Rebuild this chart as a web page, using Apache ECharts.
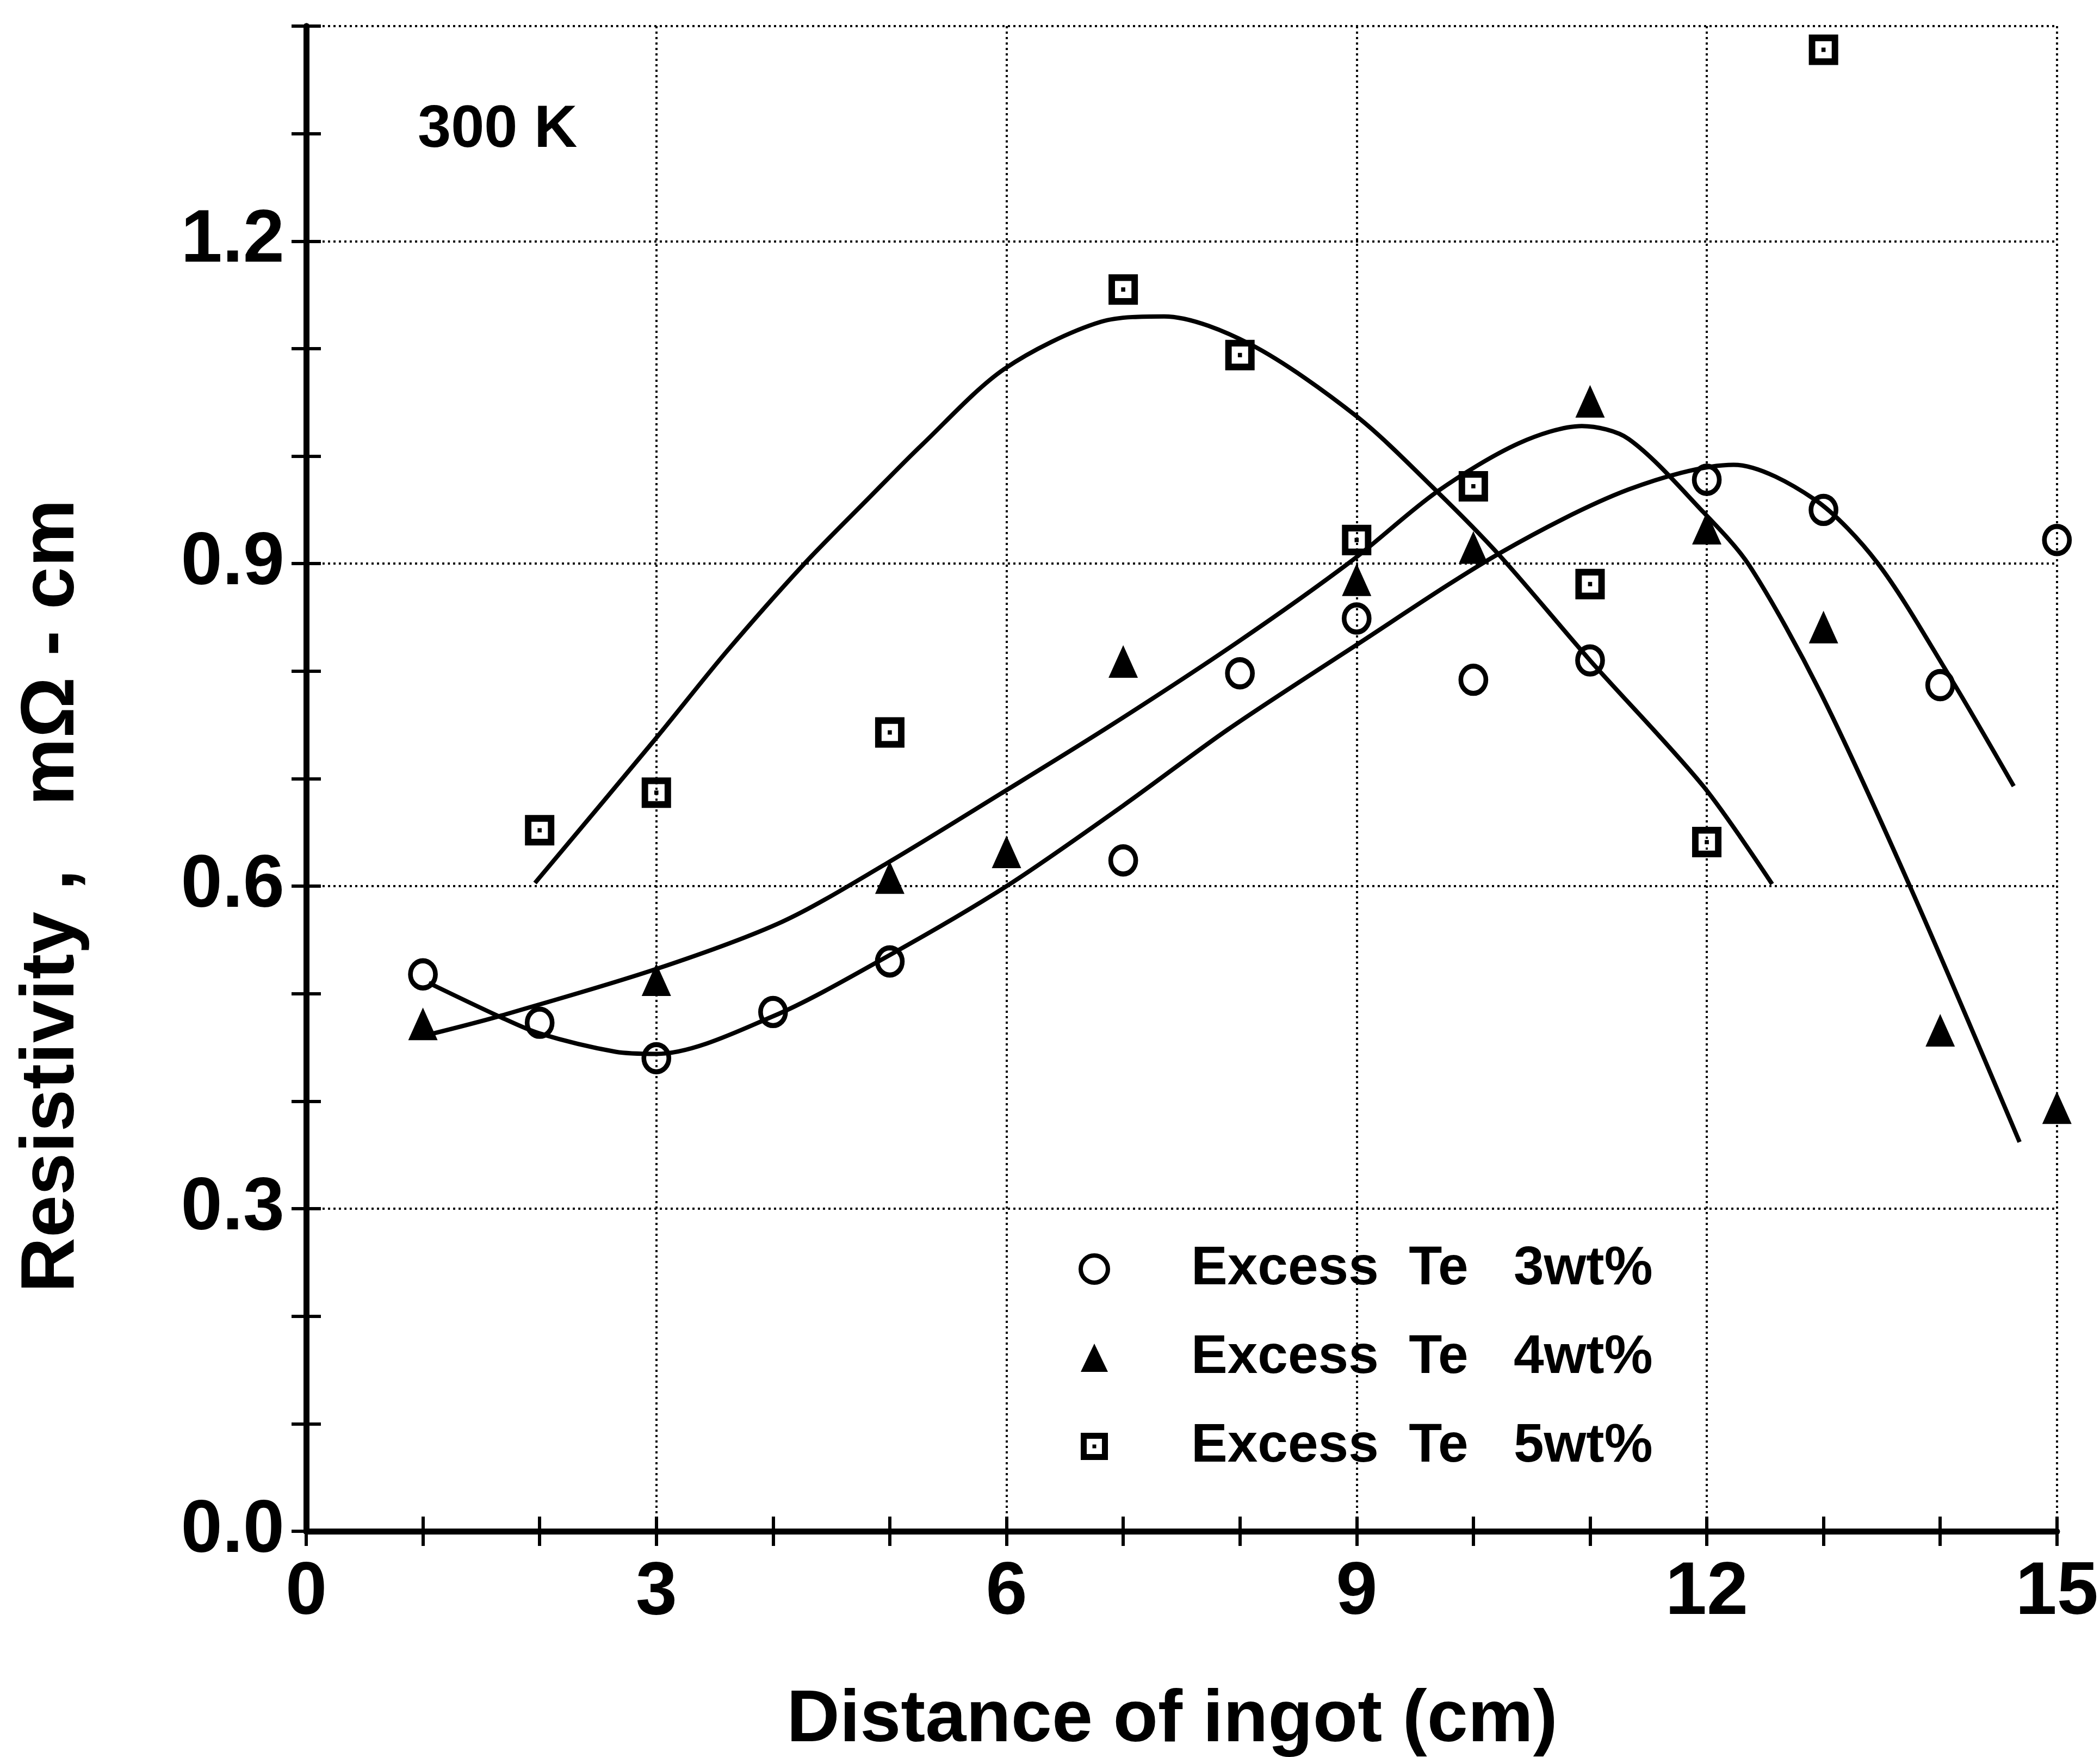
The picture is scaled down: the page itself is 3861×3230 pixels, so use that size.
<!DOCTYPE html>
<html>
<head>
<meta charset="utf-8">
<script src="https://cdn.jsdelivr.net/npm/echarts@6/dist/echarts.min.js"></script>
<style>
html,body{margin:0;padding:0;background:#fff;}
#chart{width:3861px;height:3230px;}
</style>
</head>
<body>
<div id="chart"></div>
<script>
// ---- data ----
const seriesNames = ['Excess  Te   3wt%', 'Excess  Te   4wt%', 'Excess  Te   5wt%'];

// measured points [distance (cm), resistivity (mΩ·cm)]
const te3Points = [[1,0.518],[2,0.473],[3,0.440],[4,0.483],[5,0.530],[7,0.624],[8,0.798],[9,0.849],[10,0.792],[11,0.810],[12,0.978],[13,0.950],[14,0.787],[15,0.922]];
const te4Points = [[1,0.472],[3,0.513],[5,0.608],[6,0.632],[7,0.809],[9,0.885],[10,0.915],[11,1.051],[12,0.933],[13,0.841],[14,0.466],[15,0.394]];
const te5Points = [[2,0.652],[3,0.687],[5,0.743],[7,1.155],[8,1.094],[9,0.922],[10,0.972],[11,0.881],[12,0.641],[13,1.378]];

// fitted curves
const te3Curve = [[1.05,0.510],[1.65,0.479],[2.0,0.463],[2.65,0.446],[3.0,0.444],[4.0,0.479],[5.0,0.536],[6.0,0.600],[7.0,0.675],[7.9,0.746],[8.95,0.821],[10.23,0.910],[11.33,0.969],[12.23,0.992],[12.92,0.960],[13.46,0.901],[14.07,0.797],[14.63,0.693]];
const te4Curve = [[1.05,0.462],[1.65,0.479],[3.0,0.523],[4.08,0.567],[4.97,0.621],[5.95,0.686],[6.9,0.750],[7.98,0.827],[8.95,0.902],[9.69,0.967],[10.39,1.012],[10.93,1.028],[11.33,1.016],[11.97,0.948],[12.36,0.899],[12.97,0.781],[13.74,0.600],[14.68,0.362]];
const te5Curve = [[1.96,0.603],[3.0,0.738],[3.6,0.818],[4.26,0.899],[4.82,0.961],[5.28,1.011],[5.98,1.081],[6.81,1.125],[7.35,1.130],[8.09,1.104],[9.0,1.037],[9.69,0.967],[10.23,0.907],[11.0,0.810],[11.97,0.693],[12.56,0.602]];

const xTickLabels = ['0','3','6','9','12','15'];
const yTickLabels = ['0.0','0.3','0.6','0.9','1.2'];

const xTitle = 'Distance of ingot (cm)';
const yTitle = 'Resistivity ,   m\u03A9 - cm';
const tempLabel = '300 K';

// ---- chart ----
const FONT = '"Liberation Sans", Arial, Helvetica, sans-serif';
const chart = echarts.init(document.getElementById('chart'), null, {renderer:'canvas'});

const frameLine = {show:true, lineStyle:{color:'#000', width:11}};
const tickStyle = {show:true, inside:true, length:27, lineStyle:{color:'#000', width:6}};
const gridDots = {show:true, lineStyle:{color:'#000', width:4, type:[4,6]}};
const squareSymbol = 'path://M0,0 H10 V10 H0 Z M2.2,2.2 V7.8 H7.8 V2.2 Z M4.3,4.3 H5.7 V5.7 H4.3 Z';
const curveStyle = {color:'#000', width:8};
const circleStyle = {color:'rgba(255,255,255,0)', borderColor:'#000', borderWidth:9, opacity:1};

const option = {
  backgroundColor:'#fff',
  animation:false,
  grid:{left:563, right:76, top:48, bottom:415, containLabel:false},
  xAxis:[
    {type:'value', position:'bottom', min:0, max:15, interval:3,
     axisLine:frameLine, axisTick:tickStyle,
     minorTick:{show:true, splitNumber:3, length:27, lineStyle:{color:'#000', width:6}},
     axisLabel:{show:true, margin:46, fontSize:137, fontWeight:'bold', fontFamily:FONT, color:'#000',
       formatter:function(v){ const i = Math.round(v/3); return xTickLabels[i] !== undefined && Math.abs(v - i*3) < 1e-6 ? xTickLabels[i] : ''; }},
     splitLine:gridDots},
    {type:'value', position:'top', min:0, max:15, interval:3,
     axisLine:frameLine, axisTick:tickStyle,
     minorTick:{show:true, splitNumber:3, length:27, lineStyle:{color:'#000', width:6}},
     axisLabel:{show:false}, splitLine:{show:false}}
  ],
  yAxis:[
    {type:'value', position:'left', min:0, max:1.4, interval:0.1,
     axisLine:frameLine, axisTick:tickStyle,
     axisLabel:{show:true, margin:40, fontSize:137, fontWeight:'bold', fontFamily:FONT, color:'#000',
       formatter:function(v){ const k = Math.round(v*10); return (k % 3 === 0) ? (yTickLabels[k/3] || '') : ''; }},
     splitLine:{show:false}},
    {type:'value', position:'right', min:0, max:1.4, interval:0.1,
     axisLine:frameLine, axisTick:tickStyle,
     axisLabel:{show:false}, splitLine:{show:false}},
    {type:'value', position:'left', min:0, max:1.4, interval:0.3,
     axisLine:{show:false}, axisTick:{show:false}, axisLabel:{show:false},
     splitLine:gridDots}
  ],
  legend:{
    orient:'vertical', left:1983, top:2283, padding:0,
    itemWidth:50, itemHeight:52, itemGap:63,
    data:[
      {name:seriesNames[0], itemStyle:{color:'rgba(255,255,255,0)', borderColor:'#000', borderWidth:8}},
      {name:seriesNames[1]},
      {name:seriesNames[2]}
    ],
    textStyle:{fontSize:100, fontWeight:'bold', fontFamily:FONT, color:'#000', padding:[0,0,0,148]}
  },
  graphic:[
    {type:'text', left:768, top:243-58, style:{text:tempLabel, fontSize:110, fontWeight:'bold', fontFamily:FONT, fill:'#000'}},
    {type:'text', x:2155, y:3164, style:{text:xTitle, fontSize:135, fontWeight:'bold', fontFamily:FONT, fill:'#000', textAlign:'center', textVerticalAlign:'middle'}},
    {type:'text', x:96, y:1647, rotation:Math.PI/2, style:{text:yTitle, fontSize:140, fontWeight:'bold', fontFamily:FONT, fill:'#000', textAlign:'center', textVerticalAlign:'middle'}}
  ],
  series:[
    {type:'line', name:'fit3', data:te3Curve, smooth:0.3, showSymbol:false, silent:true, z:2, lineStyle:curveStyle},
    {type:'line', name:'fit4', data:te4Curve, smooth:0.3, showSymbol:false, silent:true, z:2, lineStyle:curveStyle},
    {type:'line', name:'fit5', data:te5Curve, smooth:0.3, showSymbol:false, silent:true, z:2, lineStyle:curveStyle},
    {type:'scatter', name:seriesNames[0], data:te3Points, symbol:'circle', symbolSize:[46,50], z:5, itemStyle:circleStyle},
    {type:'scatter', name:seriesNames[1], data:te4Points, symbol:'triangle', symbolSize:[54,60], z:5,
     itemStyle:{color:'#000', borderWidth:0, opacity:1}},
    {type:'scatter', name:seriesNames[2], data:te5Points, symbol:squareSymbol, symbolSize:[54,56], z:5,
     itemStyle:{color:'#000', borderWidth:0, opacity:1}}
  ]
};
chart.setOption(option);
</script>
</body>
</html>
